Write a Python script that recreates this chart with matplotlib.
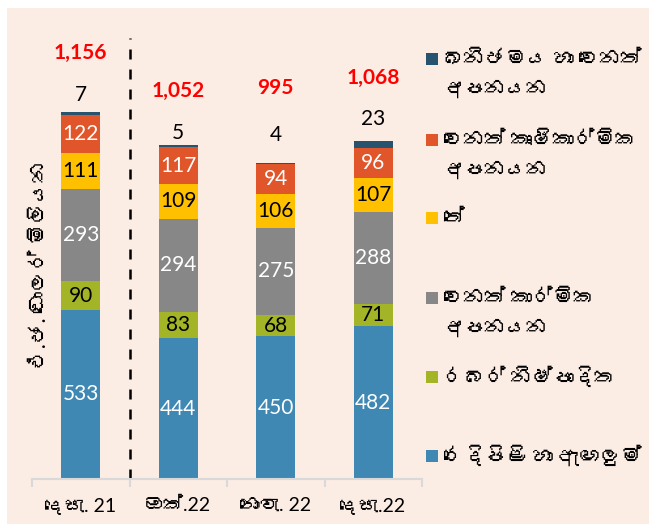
import matplotlib
matplotlib.use("Agg")
import matplotlib.pyplot as plt
from matplotlib import font_manager, ft2font
from matplotlib.patches import Rectangle
import numpy as np

# Data
categories = ["දෙසැ. 21", "ඔක්.22", "නොවැ. 22", "දෙසැ.22"]
textiles = [533, 444, 450, 482]
rubber = [90, 83, 68, 71]
other_ind = [293, 294, 275, 288]
tea = [111, 109, 106, 107]
other_agri = [122, 117, 94, 96]
minerals = [7, 5, 4, 23]
totals = ["1,156", "1,052", "995", "1,068"]

series = [textiles, rubber, other_ind, tea, other_agri, minerals]
names = ["රෙදිපිළි හා ඇඟලුම්", "රබර් නිෂ්පාදිත", "වෙනත් කාර්මික\nඅපනයන",
         "තේ", "වෙනත් කෘෂිකාර්මික\nඅපනයන", "ඛනිජමය හා වෙනත්\nඅපනයන"]
colors = ["#3F88B4", "#A3B526", "#878787", "#FFC000", "#E0552A", "#27536E"]
text_colors = ["white", "black", "white", "black", "white", "black"]
y_label = "එ.ජ. ඩොලර් මිලියන"

# label offsets above the bar tops (pixels)
small_off = [17, 12, 28, 22]
total_off = [59, 54, 75, 63]

W, H = 649, 524


def find_font(ch):
    for f in font_manager.fontManager.ttflist:
        try:
            if ord(ch) in ft2font.FT2Font(f.fname).get_charmap():
                return f.name
        except Exception:
            pass
    return None


sin_font = find_font("ක")
fam = ["Lato"] + ([sin_font] if sin_font else []) + ["DejaVu Sans"]
plt.rcParams["font.family"] = fam


def fx(x):
    return x / W


def fy(y):
    return 1 - y / H


fig = plt.figure(figsize=(W / 100, H / 100), dpi=100)
fig.patch.set_facecolor("white")
fig.add_artist(Rectangle((fx(7), 0), 1 - fx(7), fy(8), transform=fig.transFigure,
                         facecolor="#FBECE4", edgecolor="none", zorder=-10))

ax = fig.add_axes([fx(32), fy(479), fx(422) - fx(32), fy(30) - fy(479)])
ax.set_facecolor("none")

x = np.arange(len(categories))
bottom = np.zeros(len(categories))
for vals, col, tc, idx in zip(series, colors, text_colors, range(len(series))):
    vals = np.array(vals, dtype=float)
    ax.bar(x, vals, 0.4, bottom=bottom, color=col, edgecolor="none")
    if idx < len(series) - 1:
        for xi, b, v in zip(x, bottom, vals):
            ax.text(xi, b + v / 2, f"{int(v)}", ha="center", va="center",
                    color=tc, fontsize=15)
    bottom += vals

for xi, top, v, t, so, to in zip(x, bottom, minerals, totals, small_off, total_off):
    ax.annotate(str(v), (xi, top), xytext=(0, so), textcoords="offset pixels",
                ha="center", va="center", fontsize=15, color="black")
    ax.annotate(t, (xi, top), xytext=(0, to), textcoords="offset pixels",
                ha="center", va="center", fontsize=15, color="#FF0000",
                fontweight="bold")

ax.set_xlim(-0.5, 3.5)
ax.set_ylim(0, 1416)
ax.plot([0.5, 0.5], [0, 1390], color="black", lw=1.8, ls=(0, (4, 4)))

for s in ["top", "right", "left"]:
    ax.spines[s].set_visible(False)
ax.spines["bottom"].set_color("#D9D9D9")
ax.spines["bottom"].set_linewidth(1.5)
ax.set_yticks([])
ax.set_xticks(x)
ax.set_xticklabels(categories, fontsize=14)
ax.set_xticks(np.arange(-0.5, 4, 1), minor=True)
ax.tick_params(axis="x", which="major", length=0, pad=13)
ax.tick_params(axis="x", which="minor", length=6, color="#D9D9D9", width=1.5)

fig.text(fx(40), fy(265), y_label, rotation=90, ha="center", va="center", fontsize=15)

# legend, top entry first
leg_y = [59, 140, 218, 298, 377, 456]
for name, col, yy in zip(names[::-1], colors[::-1], leg_y):
    fig.add_artist(Rectangle((fx(426), fy(yy + 6)), fx(12), 12 / H,
                             transform=fig.transFigure, facecolor=col, edgecolor="none"))
    for j, line in enumerate(name.split("\n")):
        fig.text(fx(443), fy(yy + 30 * j), line, ha="left", va="center", fontsize=15)

fig.savefig("out.png", dpi=100)
